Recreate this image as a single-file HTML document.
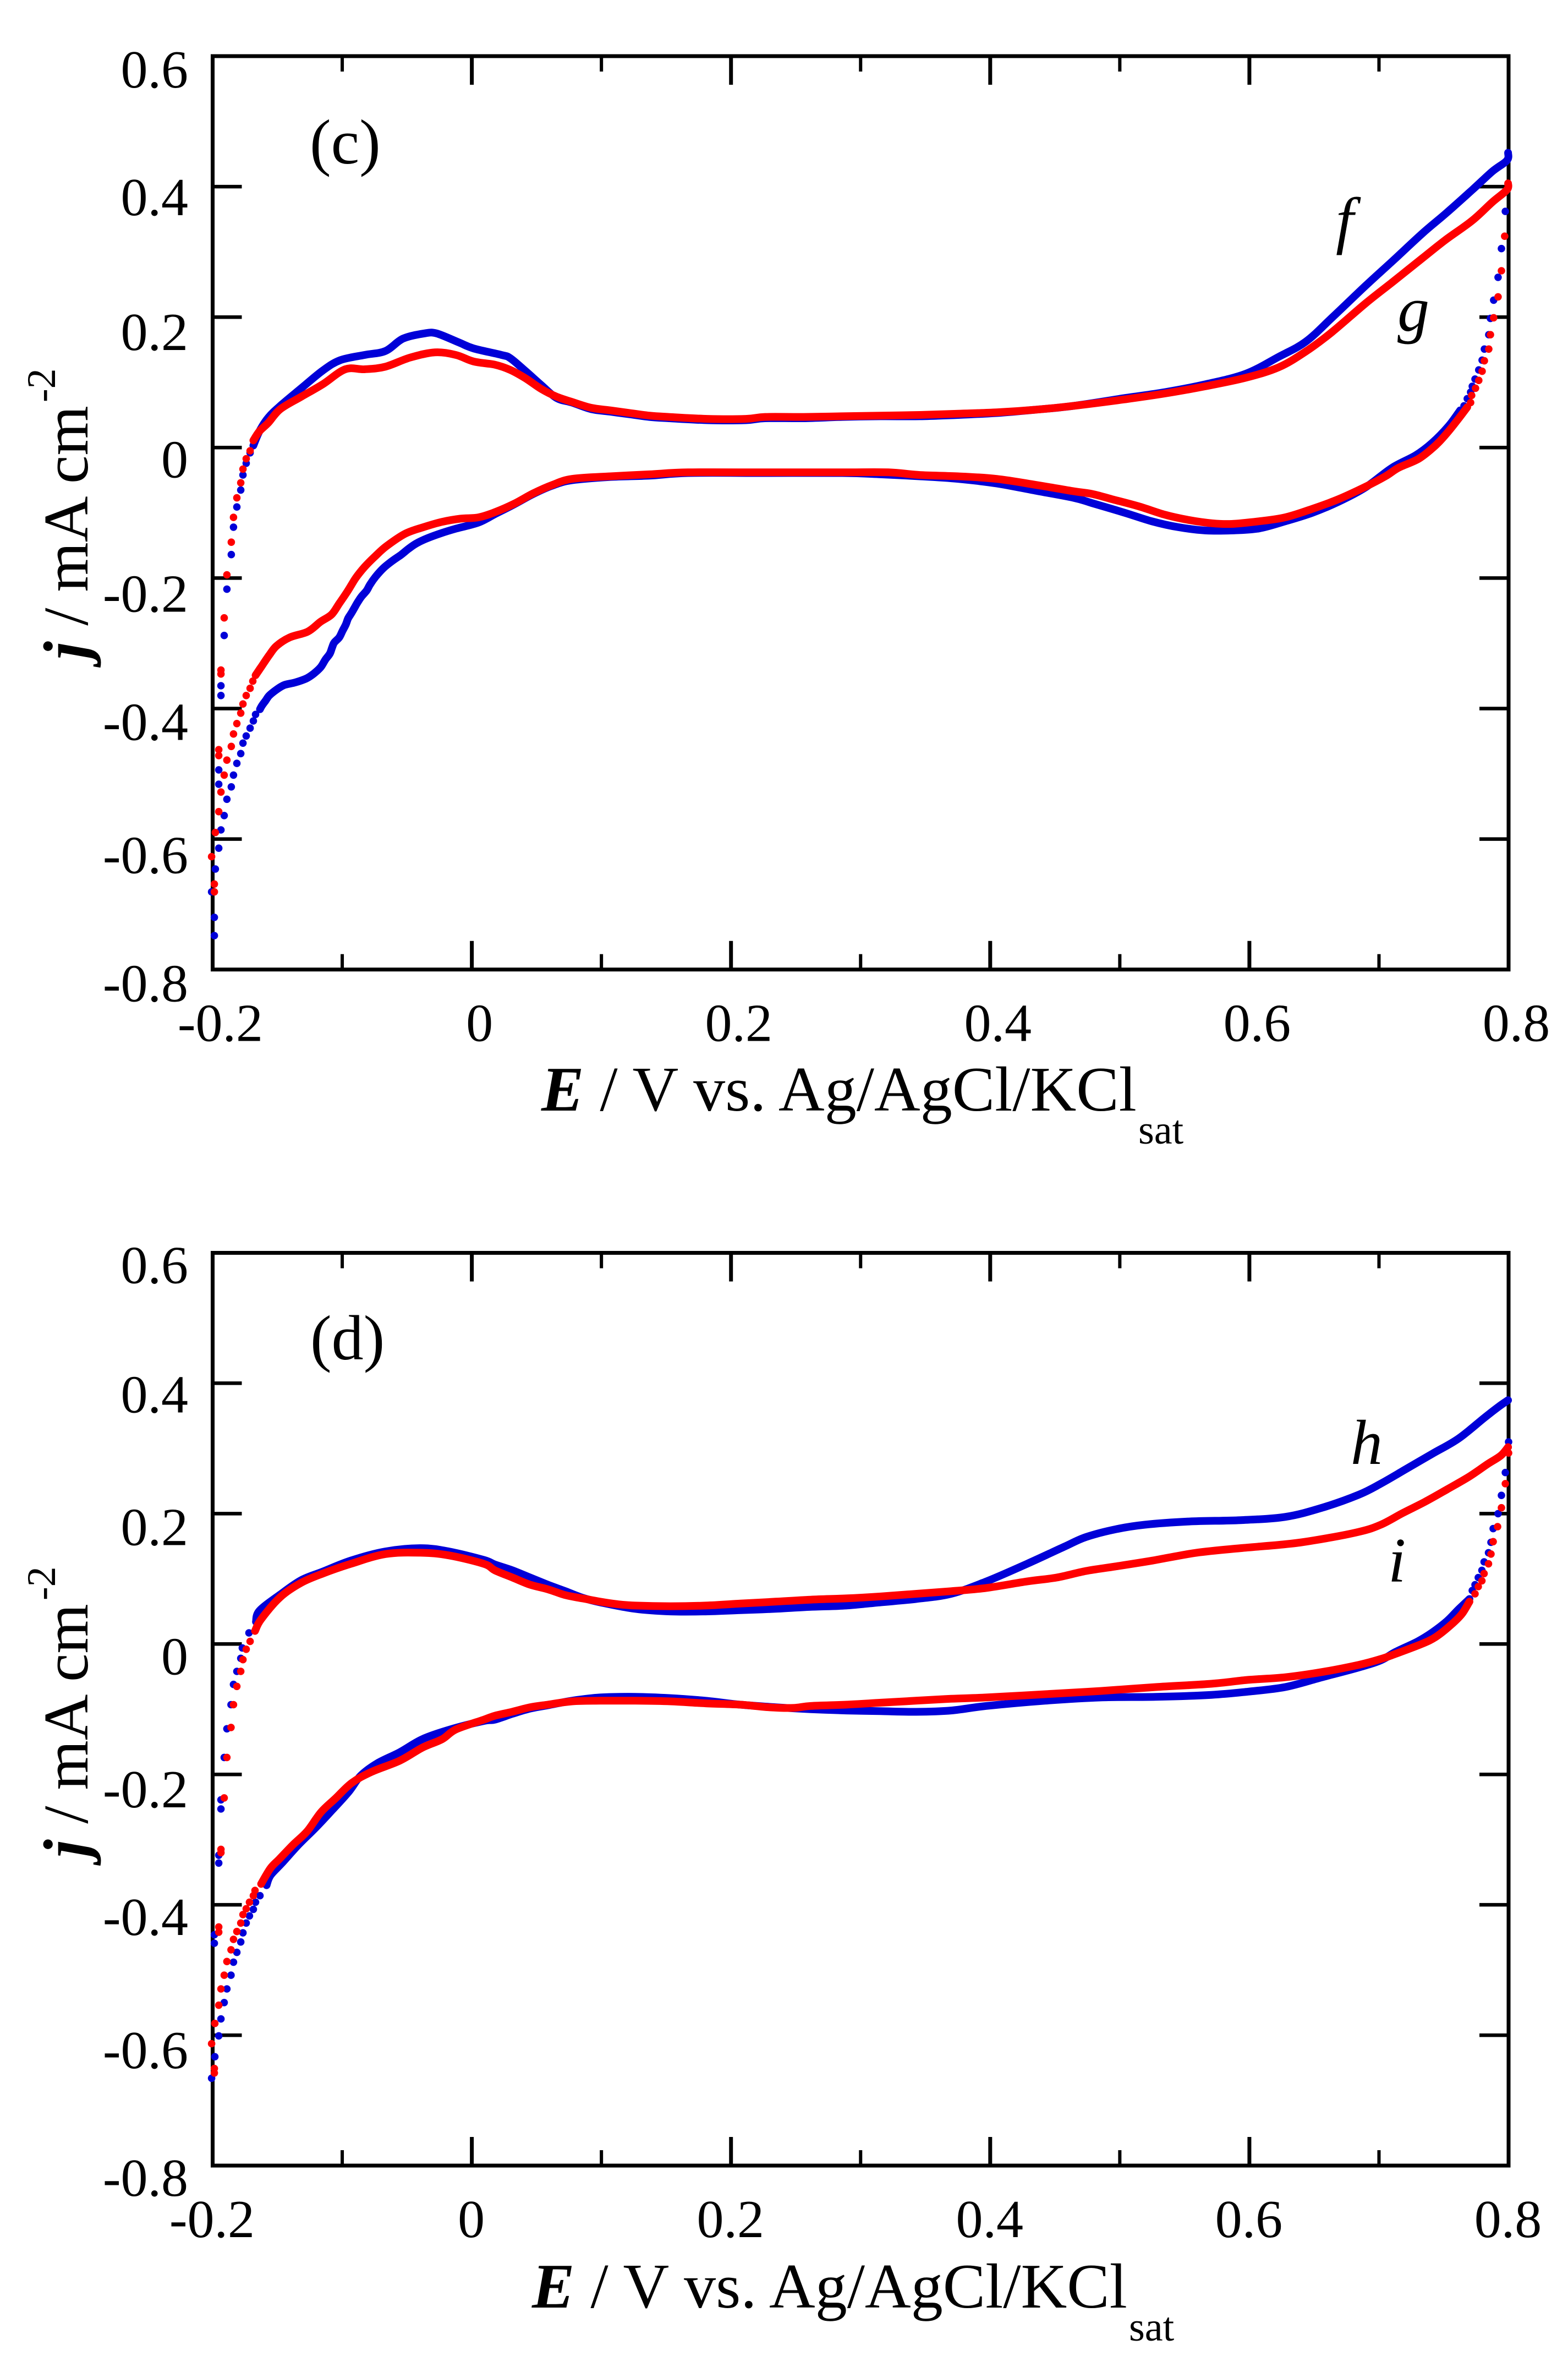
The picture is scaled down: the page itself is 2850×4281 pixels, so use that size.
<!DOCTYPE html>
<html lang="en">
<head>
<meta charset="utf-8">
<title>Cyclic voltammograms (c) and (d)</title>
<style>
html,body{margin:0;padding:0;background:#fff}
svg{display:block}
text{font-family:"Liberation Serif","Times New Roman",serif;fill:#000}
</style>
</head>
<body>
<svg id="chart" xmlns="http://www.w3.org/2000/svg" width="2850" height="4281" viewBox="0 0 2850 4281">
  <rect x="0" y="0" width="2850" height="4281" fill="#fff"/>
  <g id="panel-c">
    <text x="563" y="297" font-size="116">(c)</text>
    <text x="2428" y="439" font-size="116" font-style="italic">f</text>
    <text x="2540" y="601" font-size="116" font-style="italic">g</text>
    <text x="984" y="2018" font-size="116"><tspan font-weight="bold" font-style="italic">E</tspan> / V vs. Ag/AgCl/KCl</text>
    <text x="2069" y="2078" font-size="74">sat</text>
    <text transform="translate(159 1198) rotate(-90)" font-size="116"><tspan font-weight="bold" font-style="italic">j</tspan> / mA cm</text>
    <text transform="translate(100 731) rotate(-90)" font-size="74">-2</text>
  </g>
  <g id="panel-d">
    <text x="564" y="2470" font-size="116">(d)</text>
    <text x="2455" y="2660" font-size="116" font-style="italic">h</text>
    <text x="2523" y="2874" font-size="116" font-style="italic">i</text>
    <text x="967" y="4193" font-size="116"><tspan font-weight="bold" font-style="italic">E</tspan> / V vs. Ag/AgCl/KCl</text>
    <text x="2052" y="4253" font-size="74">sat</text>
    <text transform="translate(159 3375) rotate(-90)" font-size="116"><tspan font-weight="bold" font-style="italic">j</tspan> / mA cm</text>
    <text transform="translate(100 2908) rotate(-90)" font-size="74">-2</text>
  </g>
</svg>
<script>
const yTickValues = [0.6, 0.4, 0.2, 0, -0.2, -0.4, -0.6, -0.8];
const yTickLabels = ['0.6', '0.4', '0.2', '0', '-0.2', '-0.4', '-0.6', '-0.8'];
const xMajorValues = [-0.2, 0, 0.2, 0.4, 0.6, 0.8];
const xMajorLabels = ['-0.2', '0', '0.2', '0.4', '0.6', '0.8'];
const xMinorValues = [-0.1, 0.1, 0.3, 0.5, 0.7];

/* Panel (c), curve f (blue) */
const fAnodicE = [-0.1686,-0.1639,-0.1571,-0.1478,-0.1316,-0.1151,-0.1015,-0.0828,-0.0667,-0.0531,-0.0365,-0.0272,-0.0098,0.0013,0.0229,0.0297,0.0416,0.0535,0.0654,0.0773,0.0921,0.1070,0.1219,0.1371,0.1520,0.1817,0.2114,0.2263,0.2560,0.2858,0.3155,0.3456,0.3753,0.4050,0.4348,0.4645,0.5040,0.5350,0.5660,0.5970,0.6225,0.6433,0.6637,0.6896,0.7100,0.7333,0.7511,0.7720,0.7873,0.7987,0.7996];
const fAnodicJ = [0.003,0.025,0.046,0.064,0.091,0.118,0.134,0.142,0.148,0.167,0.175,0.175,0.161,0.152,0.142,0.137,0.117,0.096,0.076,0.069,0.059,0.055,0.051,0.047,0.045,0.042,0.042,0.045,0.045,0.047,0.048,0.048,0.050,0.053,0.058,0.064,0.076,0.085,0.097,0.113,0.139,0.162,0.199,0.248,0.285,0.328,0.358,0.395,0.423,0.440,0.452];
const fCathodicE = [0.7626,0.7537,0.7409,0.7282,0.7100,0.6896,0.6688,0.6484,0.6276,0.6072,0.5864,0.5660,0.5452,0.5248,0.5040,0.4785,0.4645,0.4348,0.4050,0.3753,0.3456,0.3155,0.2858,0.2263,0.1669,0.1371,0.1070,0.0773,0.0624,0.0475,0.0327,0.0178,0.0051,-0.0119,-0.0234,-0.0344,-0.0429,-0.0488,-0.0544,-0.0616,-0.0684,-0.0743,-0.0786,-0.0811,-0.0854,-0.0887,-0.0904,-0.0930,-0.0955,-0.0972,-0.0998,-0.1023,-0.1062,-0.1079,-0.1096,-0.1130,-0.1168,-0.1223,-0.1278,-0.1363,-0.1448,-0.1507,-0.1563,-0.1592,-0.1618,-0.1635];
const fCathodicJ = [0.057,0.033,0.007,-0.012,-0.031,-0.061,-0.083,-0.100,-0.113,-0.124,-0.127,-0.127,-0.122,-0.113,-0.100,-0.085,-0.077,-0.066,-0.055,-0.048,-0.044,-0.041,-0.039,-0.039,-0.039,-0.043,-0.045,-0.050,-0.058,-0.071,-0.087,-0.102,-0.115,-0.124,-0.131,-0.139,-0.147,-0.155,-0.164,-0.174,-0.185,-0.198,-0.210,-0.219,-0.229,-0.239,-0.245,-0.254,-0.262,-0.271,-0.281,-0.291,-0.299,-0.307,-0.316,-0.325,-0.337,-0.347,-0.354,-0.360,-0.364,-0.371,-0.380,-0.388,-0.395,-0.401];
const fSparseE = [-0.1669,-0.1686,-0.1711,-0.1741,-0.1766,-0.1783,-0.1813,-0.1839,-0.1856,-0.1890,-0.1911,-0.1936,-0.1953,-0.1979,-0.2008,-0.1987,-0.1987,-0.1953,-0.1953,-0.1936,-0.1936,-0.1911,-0.1890,-0.1856,-0.1839,-0.1813,-0.1783,-0.1766,-0.1741,-0.1711,0.7975,0.7945,0.7919,0.7885,0.7860,0.7847,0.7813,0.7796,0.7770,0.7741,0.7720,0.7707,0.7681,0.7656];
const fSparseJ = [-0.409,-0.419,-0.430,-0.442,-0.453,-0.469,-0.484,-0.502,-0.520,-0.539,-0.564,-0.586,-0.614,-0.646,-0.681,-0.720,-0.748,-0.516,-0.494,-0.380,-0.365,-0.288,-0.217,-0.164,-0.122,-0.091,-0.065,-0.042,-0.024,-0.008,0.362,0.305,0.261,0.226,0.198,0.173,0.151,0.134,0.119,0.105,0.094,0.085,0.075,0.064];

/* Panel (c), curve g (red) */
const gAnodicE = [-0.1686,-0.1639,-0.1571,-0.1478,-0.1316,-0.1151,-0.0977,-0.0828,-0.0667,-0.0476,-0.0285,-0.0123,0.0013,0.0178,0.0297,0.0416,0.0535,0.0654,0.0773,0.0921,0.1070,0.1219,0.1371,0.1520,0.1817,0.2114,0.2263,0.2560,0.2858,0.3155,0.3456,0.3753,0.4050,0.4348,0.4645,0.5040,0.5350,0.5660,0.5970,0.6225,0.6433,0.6637,0.6896,0.7100,0.7333,0.7511,0.7720,0.7873,0.7987,0.7996];
const gAnodicJ = [0.011,0.025,0.038,0.059,0.078,0.097,0.120,0.120,0.124,0.138,0.146,0.142,0.132,0.127,0.119,0.106,0.090,0.078,0.070,0.061,0.057,0.053,0.049,0.047,0.044,0.044,0.047,0.047,0.048,0.049,0.050,0.052,0.054,0.058,0.064,0.074,0.083,0.094,0.107,0.123,0.147,0.177,0.221,0.253,0.290,0.318,0.348,0.376,0.395,0.405];
const gCathodicE = [0.7681,0.7613,0.7524,0.7435,0.7307,0.7150,0.7049,0.6896,0.6688,0.6484,0.6276,0.6072,0.5864,0.5711,0.5532,0.5350,0.5146,0.4938,0.4785,0.4645,0.4348,0.4050,0.3753,0.3456,0.3214,0.2858,0.2263,0.1669,0.1371,0.1070,0.0773,0.0624,0.0475,0.0327,0.0178,0.0051,-0.0089,-0.0234,-0.0374,-0.0514,-0.0658,-0.0743,-0.0828,-0.0896,-0.0955,-0.1023,-0.1083,-0.1168,-0.1265,-0.1406,-0.1507,-0.1563,-0.1618,-0.1669];
const gCathodicJ = [0.062,0.044,0.022,0.003,-0.017,-0.031,-0.044,-0.060,-0.079,-0.094,-0.107,-0.113,-0.117,-0.116,-0.111,-0.103,-0.090,-0.079,-0.071,-0.067,-0.057,-0.048,-0.044,-0.042,-0.038,-0.038,-0.038,-0.038,-0.041,-0.044,-0.048,-0.057,-0.070,-0.086,-0.099,-0.107,-0.109,-0.114,-0.122,-0.132,-0.151,-0.166,-0.183,-0.200,-0.219,-0.239,-0.256,-0.267,-0.282,-0.291,-0.304,-0.318,-0.334,-0.349];
const gSparseE = [-0.1690,-0.1711,-0.1741,-0.1766,-0.1783,-0.1813,-0.1839,-0.1856,-0.1890,-0.1911,-0.1936,-0.1953,-0.1979,-0.2008,-0.1987,-0.1987,-0.1953,-0.1953,-0.1936,-0.1936,-0.1911,-0.1890,-0.1856,-0.1839,-0.1813,-0.1783,-0.1766,-0.1741,-0.1711,0.7970,0.7945,0.7919,0.7885,0.7860,0.7847,0.7813,0.7796,0.7770,0.7745,0.7715,0.7707];
const gSparseJ = [-0.358,-0.369,-0.380,-0.393,-0.407,-0.423,-0.439,-0.458,-0.479,-0.502,-0.528,-0.558,-0.590,-0.627,-0.669,-0.681,-0.472,-0.463,-0.347,-0.341,-0.261,-0.195,-0.145,-0.107,-0.077,-0.054,-0.033,-0.017,-0.005,0.324,0.271,0.231,0.199,0.173,0.151,0.133,0.117,0.103,0.091,0.080,0.069];

/* Panel (d), curve h (blue) */
const hAnodicE = [-0.1666,-0.1639,-0.1478,-0.1316,-0.1151,-0.0934,-0.0667,-0.0395,-0.0178,0.0093,0.0178,0.0314,0.0450,0.0586,0.0722,0.0853,0.0989,0.1260,0.1533,0.1804,0.2072,0.2344,0.2615,0.2887,0.3155,0.3426,0.3698,0.3970,0.4284,0.4569,0.4738,0.4968,0.5193,0.5537,0.5932,0.6276,0.6560,0.6844,0.7014,0.7214,0.7413,0.7613,0.7813,0.7923,0.7996];
const hAnodicJ = [0.034,0.051,0.076,0.098,0.111,0.128,0.142,0.147,0.142,0.129,0.122,0.113,0.102,0.091,0.081,0.071,0.064,0.054,0.050,0.050,0.052,0.054,0.057,0.059,0.064,0.069,0.077,0.096,0.123,0.149,0.164,0.176,0.183,0.188,0.190,0.195,0.209,0.229,0.246,0.269,0.292,0.315,0.347,0.364,0.374];
const hCathodicE = [0.7698,0.7613,0.7524,0.7413,0.7299,0.7129,0.7014,0.6844,0.6560,0.6276,0.5991,0.5706,0.5278,0.4853,0.4424,0.3970,0.3698,0.3426,0.3155,0.2887,0.2615,0.2344,0.2072,0.1804,0.1533,0.1260,0.0989,0.0773,0.0586,0.0450,0.0314,0.0178,0.0093,-0.0166,-0.0382,-0.0556,-0.0730,-0.0858,-0.0947,-0.1074,-0.1206,-0.1338,-0.1465,-0.1554,-0.1584];
const hCathodicJ = [0.069,0.053,0.035,0.018,0.004,-0.012,-0.025,-0.036,-0.051,-0.066,-0.073,-0.078,-0.081,-0.082,-0.087,-0.095,-0.102,-0.104,-0.103,-0.102,-0.100,-0.097,-0.093,-0.087,-0.083,-0.081,-0.082,-0.087,-0.094,-0.099,-0.107,-0.116,-0.118,-0.131,-0.146,-0.166,-0.183,-0.202,-0.226,-0.254,-0.282,-0.308,-0.336,-0.355,-0.370];
const hSparseE = [-0.1635,-0.1669,-0.1686,-0.1716,-0.1741,-0.1766,-0.1783,-0.1813,-0.1839,-0.1858,-0.1890,-0.1911,-0.1936,-0.1953,-0.1983,-0.2008,-0.1987,-0.1987,-0.1953,-0.1953,-0.1936,-0.1936,-0.1911,-0.1890,-0.1858,-0.1839,-0.1813,-0.1783,-0.1771,-0.1720,0.8000,0.7975,0.7945,0.7919,0.7881,0.7864,0.7845,0.7811,0.7794,0.7766,0.7741,0.7720];
const hSparseJ = [-0.386,-0.396,-0.407,-0.417,-0.428,-0.443,-0.457,-0.473,-0.488,-0.508,-0.529,-0.550,-0.575,-0.601,-0.633,-0.666,-0.446,-0.459,-0.324,-0.336,-0.239,-0.253,-0.174,-0.130,-0.093,-0.062,-0.042,-0.022,-0.006,0.017,0.310,0.263,0.228,0.200,0.177,0.156,0.140,0.126,0.113,0.102,0.091,0.082];

/* Panel (d), curve i (red) */
const iAnodicE = [-0.1673,-0.1626,-0.1478,-0.1316,-0.1151,-0.0934,-0.0667,-0.0395,-0.0178,0.0093,0.0178,0.0314,0.0450,0.0586,0.0722,0.0853,0.0989,0.1125,0.1260,0.1533,0.1804,0.2072,0.2344,0.2615,0.2887,0.3155,0.3426,0.3698,0.3970,0.4284,0.4513,0.4738,0.4968,0.5252,0.5592,0.5932,0.6276,0.6501,0.6844,0.7014,0.7184,0.7354,0.7524,0.7698,0.7838,0.7940,0.7996];
const iAnodicJ = [0.020,0.038,0.072,0.094,0.108,0.123,0.138,0.140,0.136,0.123,0.113,0.102,0.091,0.084,0.075,0.070,0.065,0.061,0.059,0.058,0.059,0.062,0.065,0.068,0.070,0.073,0.077,0.081,0.086,0.096,0.102,0.112,0.119,0.128,0.140,0.147,0.153,0.159,0.172,0.183,0.201,0.218,0.237,0.257,0.276,0.289,0.302];
const iCathodicE = [0.7698,0.7639,0.7554,0.7439,0.7328,0.7129,0.7014,0.6844,0.6560,0.6276,0.5991,0.5706,0.5278,0.4853,0.4424,0.3970,0.3698,0.3426,0.3155,0.2887,0.2615,0.2480,0.2288,0.2072,0.1804,0.1533,0.1260,0.0989,0.0773,0.0586,0.0450,0.0310,0.0178,0.0093,-0.0123,-0.0229,-0.0382,-0.0556,-0.0773,-0.0926,-0.1053,-0.1164,-0.1270,-0.1380,-0.1486,-0.1554,-0.1626];
const iCathodicJ = [0.065,0.046,0.029,0.011,0.000,-0.015,-0.023,-0.032,-0.043,-0.051,-0.055,-0.061,-0.066,-0.072,-0.077,-0.082,-0.084,-0.087,-0.090,-0.093,-0.095,-0.098,-0.097,-0.093,-0.091,-0.088,-0.087,-0.087,-0.088,-0.093,-0.097,-0.104,-0.110,-0.116,-0.131,-0.146,-0.159,-0.179,-0.196,-0.213,-0.237,-0.258,-0.287,-0.308,-0.330,-0.344,-0.368];
const iSparseE = [-0.1673,-0.1686,-0.1716,-0.1741,-0.1766,-0.1783,-0.1813,-0.1839,-0.1858,-0.1890,-0.1911,-0.1936,-0.1953,-0.1983,-0.2008,-0.1987,-0.1987,-0.1953,-0.1953,-0.1936,-0.1936,-0.1911,-0.1890,-0.1858,-0.1839,-0.1813,-0.1783,-0.1766,-0.1741,-0.1711,0.8000,0.7975,0.7945,0.7915,0.7881,0.7864,0.7845,0.7811,0.7794,0.7766,0.7741];
const iSparseJ = [-0.378,-0.386,-0.396,-0.406,-0.415,-0.428,-0.441,-0.453,-0.469,-0.487,-0.508,-0.529,-0.554,-0.582,-0.613,-0.651,-0.658,-0.434,-0.442,-0.315,-0.320,-0.236,-0.174,-0.128,-0.093,-0.065,-0.042,-0.024,-0.008,0.004,0.293,0.246,0.209,0.180,0.157,0.138,0.123,0.108,0.097,0.088,0.077];

const SVGNS = 'http://www.w3.org/2000/svg';
const BLUE = '#0000d8';
const RED = '#ff0000';

function make(tag, attrs, parent) {
  const el = document.createElementNS(SVGNS, tag);
  for (const k in attrs) el.setAttribute(k, attrs[k]);
  parent.appendChild(el);
  return el;
}

function drawFrame(group, x, y, left, right, top, bottom, tickLabelShift, yLabelDrop) {
  const box = make('rect', {x: left, y: top, width: right - left, height: bottom - top, fill: 'none', stroke: '#000', 'stroke-width': 7}, group);
  
  

  yTickValues.forEach(function (v, i) {
    const py = y(v);
    if (v !== 0.6 && v !== -0.8) {
      const tl = make('line', {x1: left, x2: left + 53, y1: py, y2: py, stroke: '#000', 'stroke-width': 6.5}, group);
      
      
      const tr = make('line', {x1: right - 53, x2: right, y1: py, y2: py, stroke: '#000', 'stroke-width': 6.5}, group);
      
      
    }
    const label = make('text', {x: 342, y: py + yLabelDrop[i], 'font-size': 98, 'text-anchor': 'end'}, group);
    
    
    label.textContent = yTickLabels[i];
  });

  xMajorValues.forEach(function (v, i) {
    const px = x(v);
    if (v !== -0.2 && v !== 0.8) {
      const tb = make('line', {x1: px, x2: px, y1: bottom, y2: bottom - 52, stroke: '#000', 'stroke-width': 7}, group);
      
      
      const tt = make('line', {x1: px, x2: px, y1: top, y2: top + 52, stroke: '#000', 'stroke-width': 7}, group);
      
      
    }
    const label = make('text', {x: px + tickLabelShift, y: bottom + 130, 'font-size': 98, 'text-anchor': 'middle'}, group);
    
    
    label.textContent = xMajorLabels[i];
  });

  xMinorValues.forEach(function (v) {
    const px = x(v);
    const tb = make('line', {x1: px, x2: px, y1: bottom, y2: bottom - 28, stroke: '#000', 'stroke-width': 6}, group);
    
    
    const tt = make('line', {x1: px, x2: px, y1: top, y2: top + 28, stroke: '#000', 'stroke-width': 6}, group);
    
    
  });
}

function drawBranch(group, x, y, es, js, color) {
  const px = es.map(x);
  const py = js.map(y);
  let d = 'M' + px[0].toFixed(1) + ' ' + py[0].toFixed(1);
  for (let i = 0; i < px.length - 1; i++) {
    const a = Math.max(i - 1, 0), b = Math.min(i + 2, px.length - 1);
    const c1x = px[i] + (px[i + 1] - px[a]) / 6;
    const c1y = py[i] + (py[i + 1] - py[a]) / 6;
    const c2x = px[i + 1] - (px[b] - px[i]) / 6;
    const c2y = py[i + 1] - (py[b] - py[i]) / 6;
    d += 'C' + c1x.toFixed(1) + ' ' + c1y.toFixed(1) + ' ' + c2x.toFixed(1) + ' ' + c2y.toFixed(1) + ' ' + px[i + 1].toFixed(1) + ' ' + py[i + 1].toFixed(1);
  }
  const line = make('path', {d: d, fill: 'none', stroke: color, 'stroke-width': 14, 'stroke-linejoin': 'round', 'stroke-linecap': 'round'}, group);
  
  
}

function drawDots(group, x, y, es, js, color) {
  es.forEach(function (e, i) {
    const dot = make('circle', {cx: x(e).toFixed(1), cy: y(js[i]).toFixed(1), r: 6.8, fill: color}, group);
    
    
  });
}

function drawPanel(groupId, top, bottom, tickLabelShift, yLabelDrop, blue, red) {
  const group = document.getElementById(groupId);
  const left = 386.5, right = 2742;
  const x = function (e) { return left + (e + 0.2) / 1.0 * (right - left); };
  const y = function (j) { return top + (0.6 - j) / 1.4 * (bottom - top); };
  drawFrame(group, x, y, left, right, top, bottom, tickLabelShift, yLabelDrop);
  [[blue, BLUE], [red, RED]].forEach(function (pair) {
    const s = pair[0], color = pair[1];
    drawBranch(group, x, y, s.ae, s.aj, color);
    drawBranch(group, x, y, s.ce, s.cj, color);
    drawDots(group, x, y, s.se, s.sj, color);
  });
}

drawPanel('panel-c', 102, 1761.7, 14, [57, 52, 60, 54, 61, 57, 62, 58],
  {ae: fAnodicE, aj: fAnodicJ, ce: fCathodicE, cj: fCathodicJ, se: fSparseE, sj: fSparseJ},
  {ae: gAnodicE, aj: gAnodicJ, ce: gCathodicE, cj: gCathodicJ, se: gSparseE, sj: gSparseJ});
drawPanel('panel-d', 2276.5, 3935, -1, [55, 53, 57, 55, 60, 55, 60, 55],
  {ae: hAnodicE, aj: hAnodicJ, ce: hCathodicE, cj: hCathodicJ, se: hSparseE, sj: hSparseJ},
  {ae: iAnodicE, aj: iAnodicJ, ce: iCathodicE, cj: iCathodicJ, se: iSparseE, sj: iSparseJ});
</script>
</body>
</html>
